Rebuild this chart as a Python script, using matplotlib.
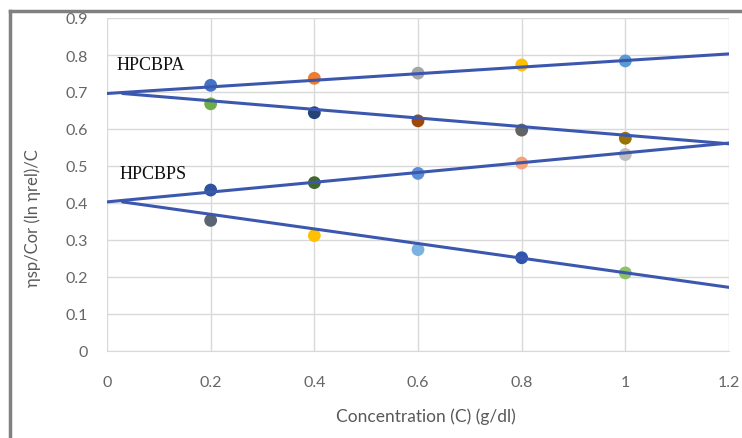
import matplotlib
matplotlib.use("Agg")
import matplotlib.pyplot as plt
from matplotlib.lines import Line2D
import numpy as np

############################
# DATA
############################
conc = [0.2, 0.4, 0.6, 0.8, 1.0]   # g/dl

# HPCBPA: reduced (ηsp/C) and inherent (ln ηrel / C) viscosity
hpcbpa_red = [0.718, 0.737, 0.751, 0.773, 0.784]
hpcbpa_inh = [0.668, 0.644, 0.622, 0.597, 0.575]
# HPCBPS
hpcbps_red = [0.435, 0.455, 0.480, 0.508, 0.531]
hpcbps_inh = [0.353, 0.312, 0.274, 0.252, 0.211]

# hand-drawn extrapolation lines (start C, start value, end C, end value)
line_c0 = [0.00, 0.03, 0.00, 0.03]
line_v0 = [0.696, 0.696, 0.403, 0.403]
line_c1 = [1.2, 1.2, 1.2, 1.2]
line_v1 = [0.803, 0.560, 0.562, 0.172]

# point colours (Office palette)
colors_a_red = ["#4472C4", "#ED7D31", "#A5A5A5", "#FFC000", "#5B9BD5"]
colors_a_inh = ["#70AD47", "#264478", "#9E480E", "#636363", "#997300"]
colors_s_red = ["#2F52A0", "#43682B", "#5B8FD5", "#F4A37A", "#BDBDBD"]
colors_s_inh = ["#5A6472", "#FFC000", "#7CB2E0", "#2F55B0", "#8CC168"]

x_ticks = [0, 0.2, 0.4, 0.6, 0.8, 1, 1.2]
x_ticklabels = ["0", "0.2", "0.4", "0.6", "0.8", "1", "1.2"]
y_ticks = np.arange(0, 0.91, 0.1)

############################
# PLOT
############################
plt.rcParams['font.family'] = ['Lato', 'DejaVu Sans']

fig = plt.figure(figsize=(7.42, 4.39), dpi=100)
ax = fig.add_axes([107 / 742, 1 - 352 / 439, 622 / 742, 333 / 439])

for ys, cols in [(hpcbpa_red, colors_a_red), (hpcbpa_inh, colors_a_inh),
                 (hpcbps_red, colors_s_red), (hpcbps_inh, colors_s_inh)]:
    ax.scatter(conc, ys, s=85, c=cols, zorder=3, linewidths=0)

for c0, v0, c1, v1 in zip(line_c0, line_v0, line_c1, line_v1):
    ax.plot([c0, c1], [v0, v1], color="#3B58AE", lw=2.2, zorder=4,
            solid_capstyle="round")

ax.set_xlim(0, 1.2)
ax.set_ylim(0, 0.9)
ax.set_xticks(x_ticks)
ax.set_xticklabels(x_ticklabels)
ax.set_yticks(y_ticks)
ax.set_yticklabels([f"{v:.1f}" if v > 0 else "0" for v in y_ticks])
ax.grid(True, color="#D9D9D9", lw=1)
ax.set_axisbelow(True)
for s in ["top", "right", "left"]:
    ax.spines[s].set_visible(False)
ax.spines["bottom"].set_color("#D9D9D9")
ax.tick_params(length=0, colors="#666666", labelsize=11.5)
ax.tick_params(axis="x", pad=17)
ax.tick_params(axis="y", pad=14)

ax.set_xlabel("Concentration (C) (g/dl)", color="#595959", fontsize=12.5)
ax.xaxis.set_label_coords(0.513, -0.17)
fig.text(33 / 742, 1 - 218 / 439, "ηsp/Cor (ln ηrel)/C", rotation=90,
         color="#595959", fontsize=12, ha="center", va="center")

ax.text(0.018, 0.763, "HPCBPA", family="Liberation Serif", fontsize=13,
        color="#111111")
ax.text(0.025, 0.467, "HPCBPS", family="Liberation Serif", fontsize=13,
        color="#111111")

# outer border
fig.add_artist(Line2D([10 / 742, 10 / 742], [0, 1 - 12 / 439],
                      transform=fig.transFigure, color="#808080", lw=2.5))
fig.add_artist(Line2D([10 / 742, 1], [1 - 12 / 439, 1 - 12 / 439],
                      transform=fig.transFigure, color="#808080", lw=2.5))

fig.savefig("out.png", dpi=100)
